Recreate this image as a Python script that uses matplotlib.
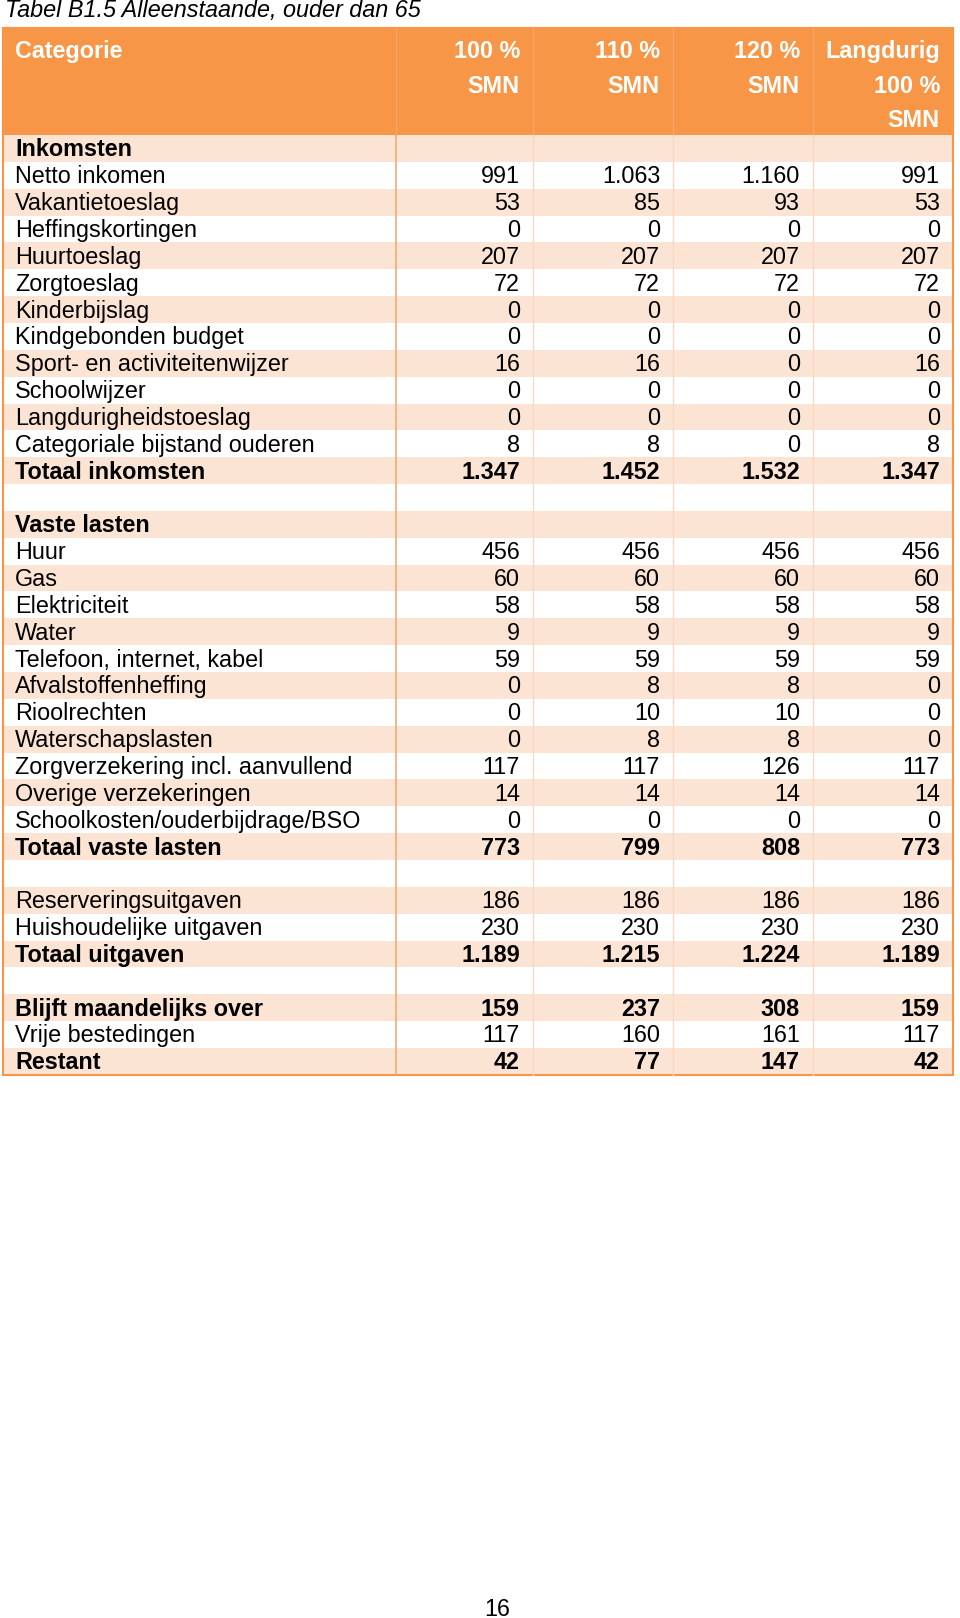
import matplotlib
matplotlib.use("Agg")
import matplotlib.pyplot as plt
from matplotlib.patches import Rectangle
from matplotlib import font_manager as fm
import os

title = "Tabel B1.5 Alleenstaande, ouder dan 65"
header_cat = "Categorie"
header_cols = [["100 %", "SMN"], ["110 %", "SMN"], ["120 %", "SMN"], ["Langdurig", "100 %", "SMN"]]

categories = [
    "Inkomsten", "Netto inkomen", "Vakantietoeslag", "Heffingskortingen", "Huurtoeslag",
    "Zorgtoeslag", "Kinderbijslag", "Kindgebonden budget", "Sport- en activiteitenwijzer",
    "Schoolwijzer", "Langdurigheidstoeslag", "Categoriale bijstand ouderen", "Totaal inkomsten",
    "", "Vaste lasten", "Huur", "Gas", "Elektriciteit", "Water", "Telefoon, internet, kabel",
    "Afvalstoffenheffing", "Rioolrechten", "Waterschapslasten", "Zorgverzekering incl. aanvullend",
    "Overige verzekeringen", "Schoolkosten/ouderbijdrage/BSO", "Totaal vaste lasten",
    "", "Reserveringsuitgaven", "Huishoudelijke uitgaven", "Totaal uitgaven",
    "", "Blijft maandelijks over", "Vrije bestedingen", "Restant",
]
N = None
smn100 = [N, 991, 53, 0, 207, 72, 0, 0, 16, 0, 0, 8, 1347, N, N, 456, 60, 58, 9, 59, 0, 0, 0, 117, 14, 0, 773, N, 186, 230, 1189, N, 159, 117, 42]
smn110 = [N, 1063, 85, 0, 207, 72, 0, 0, 16, 0, 0, 8, 1452, N, N, 456, 60, 58, 9, 59, 8, 10, 8, 117, 14, 0, 799, N, 186, 230, 1215, N, 237, 160, 77]
smn120 = [N, 1160, 93, 0, 207, 72, 0, 0, 0, 0, 0, 0, 1532, N, N, 456, 60, 58, 9, 59, 8, 10, 8, 126, 14, 0, 808, N, 186, 230, 1224, N, 308, 161, 147]
langdurig = [N, 991, 53, 0, 207, 72, 0, 0, 16, 0, 0, 8, 1347, N, N, 456, 60, 58, 9, 59, 0, 0, 0, 117, 14, 0, 773, N, 186, 230, 1189, N, 159, 117, 42]
bold_rows = ["Inkomsten", "Totaal inkomsten", "Vaste lasten", "Totaal vaste lasten",
             "Totaal uitgaven", "Blijft maandelijks over", "Restant"]
page_number = "16"

series = [smn100, smn110, smn120, langdurig]

FS = 16.8

def find_font(name, weight, style):
    files = fm.findSystemFonts()
    for f in files:
        if os.path.basename(f) == name:
            return fm.FontProperties(fname=f, size=FS)
    return fm.FontProperties(family=["Liberation Sans", "DejaVu Sans"], weight=weight, style=style, size=FS)

FP_REG = find_font("LiberationSans-Regular.ttf", "normal", "normal")
FP_BOLD = find_font("LiberationSans-Bold.ttf", "bold", "normal")
FP_IT = find_font("LiberationSans-Italic.ttf", "normal", "italic")

def fmt(v):
    if v is None:
        return ""
    return f"{v:,}".replace(",", ".")

ORANGE = "#F79646"
STRIPE = "#FCE4D4"
FAINT = "#F6D9C4"

fig = plt.figure(figsize=(9.6, 16.18), dpi=100)
ax = fig.add_axes([0, 0, 1, 1])
ax.set_xlim(0, 960)
ax.set_ylim(1618, 0)
ax.axis("off")

xb = [3, 396, 533, 673, 813, 953]
top = 28
hdr_bot = 135
rh = 26.85

ax.text(5, 17, title, fontproperties=FP_IT, ha="left", va="baseline", color="black")

# header
ax.add_patch(Rectangle((xb[0], top), xb[-1] - xb[0], hdr_bot - top, facecolor=ORANGE, edgecolor="none"))
for x in xb[1:-1]:
    ax.plot([x, x], [top, hdr_bot], color="#F9A468", lw=1)
ax.text(15, 58, header_cat, fontproperties=FP_BOLD, color="white", ha="left", va="baseline")
for j, lines in enumerate(header_cols):
    for k, s in enumerate(lines):
        ax.text(xb[j + 2] - 13, 58 + 34.5 * k, s, fontproperties=FP_BOLD, color="white",
                ha="right", va="baseline")

# body
for i, cat in enumerate(categories):
    y0 = hdr_bot + i * rh
    if i % 2 == 0:
        ax.add_patch(Rectangle((xb[0], y0), xb[-1] - xb[0], rh, facecolor=STRIPE, edgecolor="none"))
    yb = y0 + rh / 2 + 8
    fp = FP_BOLD if cat in bold_rows else FP_REG
    ax.text(15, yb, cat, fontproperties=fp, ha="left", va="baseline", color="black")
    for j, s in enumerate(series):
        ax.text(xb[j + 2] - 13, yb, fmt(s[i]), fontproperties=fp, ha="right",
                va="baseline", color="black")

bot = hdr_bot + len(categories) * rh
for x in xb[2:-1]:
    ax.plot([x, x], [hdr_bot, bot], color=FAINT, lw=1)
ax.plot([xb[1], xb[1]], [hdr_bot, bot], color="#EFA56E", lw=1.1)
ax.add_patch(Rectangle((xb[0], top), xb[-1] - xb[0], bot - top, facecolor="none", edgecolor=ORANGE, lw=1.5))

ax.text(497, 1616, page_number, fontproperties=FP_REG, ha="center", va="baseline", color="black")

fig.savefig("out.png", dpi=100)
